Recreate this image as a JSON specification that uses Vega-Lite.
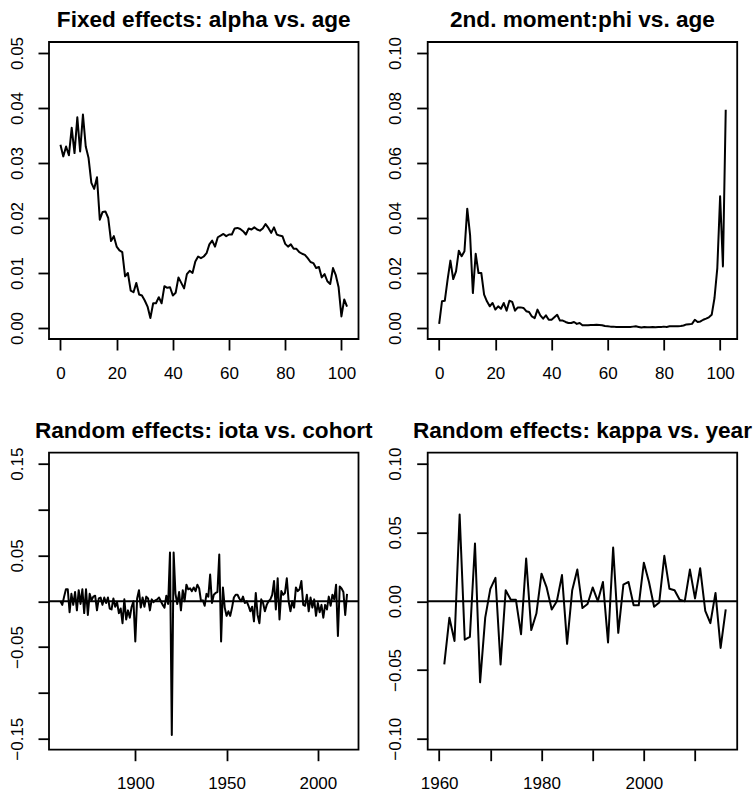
{
  "$schema": "https://vega.github.io/schema/vega-lite/v6.json",
  "background": "white",
  "padding": {"left": 7, "top": 7, "right": 5, "bottom": 5},
  "bounds": "flush",
  "columns": 2,
  "spacing": {"row": 113.7, "column": 68.7},
  "config": {
    "font": "Liberation Sans",
    "view": {"stroke": "black", "strokeWidth": 1.8},
    "title": {"font": "Liberation Sans", "fontSize": 22.6, "fontWeight": "bold", "color": "black", "baseline": "alphabetic", "offset": 5, "frame": "group", "anchor": "middle"},
    "axis": {"domain": false, "grid": false, "ticks": true, "tickSize": 11, "tickColor": "black", "tickWidth": 1.8, "labelFont": "Liberation Sans", "labelFontSize": 17, "labelColor": "black", "title": null, "labelOverlap": false, "labelFlush": false},
    "axisX": {"labelBaseline": "alphabetic", "labelPadding": 28, "labelAngle": 0},
    "axisY": {"labelAngle": -90, "labelAlign": "center", "labelBaseline": "alphabetic", "labelPadding": 16}
  },
  "datasets": {
    "alpha": [
      {"age":0,"v":0.0333},{"age":1,"v":0.0312},{"age":2,"v":0.0330},{"age":3,"v":0.0314},{"age":4,"v":0.0364},{"age":5,"v":0.0318},{"age":6,"v":0.0383},{"age":7,"v":0.0321},{"age":8,"v":0.0388},{"age":9,"v":0.0330},
      {"age":10,"v":0.0309},{"age":11,"v":0.0264},{"age":12,"v":0.0253},{"age":13,"v":0.0274},{"age":14,"v":0.0197},{"age":15,"v":0.0211},{"age":16,"v":0.0212},{"age":17,"v":0.0200},{"age":18,"v":0.0158},{"age":19,"v":0.0167},
      {"age":20,"v":0.0148},{"age":21,"v":0.0141},{"age":22,"v":0.0138},{"age":23,"v":0.0094},{"age":24,"v":0.0100},{"age":25,"v":0.0068},{"age":26,"v":0.0065},{"age":27,"v":0.0082},{"age":28,"v":0.0061},{"age":29,"v":0.0059},
      {"age":30,"v":0.0050},{"age":31,"v":0.0039},{"age":32,"v":0.0018},{"age":33,"v":0.0045},{"age":34,"v":0.0045},{"age":35,"v":0.0056},{"age":36,"v":0.0045},{"age":37,"v":0.0076},{"age":38,"v":0.0073},{"age":39,"v":0.0074},
      {"age":40,"v":0.0059},{"age":41,"v":0.0064},{"age":42,"v":0.0092},{"age":43,"v":0.0082},{"age":44,"v":0.0072},{"age":45,"v":0.0098},{"age":46,"v":0.0104},{"age":47,"v":0.0100},{"age":48,"v":0.0121},{"age":49,"v":0.0130},
      {"age":50,"v":0.0127},{"age":51,"v":0.0130},{"age":52,"v":0.0136},{"age":53,"v":0.0152},{"age":54,"v":0.0159},{"age":55,"v":0.0148},{"age":56,"v":0.0165},{"age":57,"v":0.0168},{"age":58,"v":0.0171},{"age":59,"v":0.0167},
      {"age":60,"v":0.0170},{"age":61,"v":0.0170},{"age":62,"v":0.0181},{"age":63,"v":0.0182},{"age":64,"v":0.0180},{"age":65,"v":0.0176},{"age":66,"v":0.0170},{"age":67,"v":0.0181},{"age":68,"v":0.0179},{"age":69,"v":0.0183},
      {"age":70,"v":0.0179},{"age":71,"v":0.0177},{"age":72,"v":0.0181},{"age":73,"v":0.0189},{"age":74,"v":0.0182},{"age":75,"v":0.0173},{"age":76,"v":0.0183},{"age":77,"v":0.0170},{"age":78,"v":0.0168},{"age":79,"v":0.0167},
      {"age":80,"v":0.0153},{"age":81,"v":0.0148},{"age":82,"v":0.0152},{"age":83,"v":0.0144},{"age":84,"v":0.0144},{"age":85,"v":0.0138},{"age":86,"v":0.0135},{"age":87,"v":0.0133},{"age":88,"v":0.0127},{"age":89,"v":0.0120},
      {"age":90,"v":0.0118},{"age":91,"v":0.0109},{"age":92,"v":0.0111},{"age":93,"v":0.0092},{"age":94,"v":0.0098},{"age":95,"v":0.0085},{"age":96,"v":0.0080},{"age":97,"v":0.0109},{"age":98,"v":0.0096},{"age":99,"v":0.0074},
      {"age":100,"v":0.0021},{"age":101,"v":0.0052},{"age":102,"v":0.0039}
    ],
    "phi": [
      {"age":0,"v":0.0015},{"age":1,"v":0.0097},{"age":2,"v":0.0099},{"age":3,"v":0.0176},{"age":4,"v":0.0245},{"age":5,"v":0.0178},{"age":6,"v":0.0206},{"age":7,"v":0.0281},{"age":8,"v":0.0261},{"age":9,"v":0.0279},
      {"age":10,"v":0.0434},{"age":11,"v":0.0339},{"age":12,"v":0.0127},{"age":13,"v":0.0270},{"age":14,"v":0.0200},{"age":15,"v":0.0200},{"age":16,"v":0.0121},{"age":17,"v":0.0097},{"age":18,"v":0.0079},{"age":19,"v":0.0091},
      {"age":20,"v":0.0067},{"age":21,"v":0.0079},{"age":22,"v":0.0070},{"age":23,"v":0.0091},{"age":24,"v":0.0063},{"age":25,"v":0.0099},{"age":26,"v":0.0095},{"age":27,"v":0.0063},{"age":28,"v":0.0075},{"age":29,"v":0.0075},
      {"age":30,"v":0.0073},{"age":31,"v":0.0061},{"age":32,"v":0.0058},{"age":33,"v":0.0042},{"age":34,"v":0.0036},{"age":35,"v":0.0067},{"age":36,"v":0.0046},{"age":37,"v":0.0034},{"age":38,"v":0.0046},{"age":39,"v":0.0030},
      {"age":40,"v":0.0030},{"age":41,"v":0.0039},{"age":42,"v":0.0048},{"age":43,"v":0.0027},{"age":44,"v":0.0027},{"age":45,"v":0.0022},{"age":46,"v":0.0018},{"age":47,"v":0.0018},{"age":48,"v":0.0022},{"age":49,"v":0.0015},
      {"age":50,"v":0.0018},{"age":51,"v":0.0010},{"age":52,"v":0.0010},{"age":53,"v":0.0010},{"age":54,"v":0.0011},{"age":55,"v":0.0011},{"age":56,"v":0.0012},{"age":57,"v":0.0011},{"age":58,"v":0.0010},{"age":59,"v":0.0007},
      {"age":60,"v":0.0006},{"age":61,"v":0.0005},{"age":62,"v":0.0005},{"age":63,"v":0.0004},{"age":64,"v":0.0004},{"age":65,"v":0.0004},{"age":66,"v":0.0004},{"age":67,"v":0.0004},{"age":68,"v":0.0004},{"age":69,"v":0.0005},
      {"age":70,"v":0.0006},{"age":71,"v":0.0004},{"age":72,"v":0.0002},{"age":73,"v":0.0004},{"age":74,"v":0.0003},{"age":75,"v":0.0003},{"age":76,"v":0.0004},{"age":77,"v":0.0003},{"age":78,"v":0.0004},{"age":79,"v":0.0004},
      {"age":80,"v":0.0005},{"age":81,"v":0.0004},{"age":82,"v":0.0006},{"age":83,"v":0.0006},{"age":84,"v":0.0006},{"age":85,"v":0.0006},{"age":86,"v":0.0007},{"age":87,"v":0.0009},{"age":88,"v":0.0013},{"age":89,"v":0.0014},
      {"age":90,"v":0.0015},{"age":91,"v":0.0030},{"age":92,"v":0.0022},{"age":93,"v":0.0024},{"age":94,"v":0.0030},{"age":95,"v":0.0034},{"age":96,"v":0.0039},{"age":97,"v":0.0048},{"age":98,"v":0.0109},{"age":99,"v":0.0218},
      {"age":100,"v":0.0479},{"age":101,"v":0.0224},{"age":102,"v":0.0794}
    ],
    "iota": [
      {"c":1859,"v":0},{"c":1860,"v":-0.004},{"c":1861,"v":0.005},{"c":1862,"v":0.013},{"c":1863,"v":0.013},{"c":1864,"v":-0.012},{"c":1865,"v":0.008},{"c":1866,"v":-0.004},{"c":1867,"v":0.010},{"c":1868,"v":-0.010},
      {"c":1869,"v":0.012},{"c":1870,"v":-0.003},{"c":1871,"v":0.013},{"c":1872,"v":-0.013},{"c":1873,"v":0.013},{"c":1874,"v":-0.015},{"c":1875,"v":0.008},{"c":1876,"v":0.001},{"c":1877,"v":0.005},{"c":1878,"v":0.006},
      {"c":1879,"v":-0.010},{"c":1880,"v":0.003},{"c":1881,"v":0.004},{"c":1882,"v":-0.004},{"c":1883,"v":0.004},{"c":1884,"v":-0.002},{"c":1885,"v":0.004},{"c":1886,"v":-0.008},{"c":1887,"v":-0.009},{"c":1888,"v":0.003},
      {"c":1889,"v":-0.006},{"c":1890,"v":-0.001},{"c":1891,"v":-0.013},{"c":1892,"v":-0.008},{"c":1893,"v":-0.024},{"c":1894,"v":0.002},{"c":1895,"v":-0.020},{"c":1896,"v":-0.010},{"c":1897,"v":-0.018},{"c":1898,"v":-0.006},
      {"c":1899,"v":0.000},{"c":1900,"v":-0.044},{"c":1901,"v":0.003},{"c":1902,"v":0.012},{"c":1903,"v":-0.007},{"c":1904,"v":0.004},{"c":1905,"v":-0.006},{"c":1906,"v":0.005},{"c":1907,"v":0.003},{"c":1908,"v":-0.010},
      {"c":1909,"v":0.002},{"c":1910,"v":-0.001},{"c":1911,"v":0.001},{"c":1912,"v":0.002},{"c":1913,"v":0.004},{"c":1914,"v":0.000},{"c":1915,"v":-0.004},{"c":1916,"v":-0.007},{"c":1917,"v":0.006},{"c":1918,"v":-0.003},
      {"c":1919,"v":0.053},{"c":1920,"v":-0.146},{"c":1921,"v":0.053},{"c":1922,"v":0.008},{"c":1923,"v":-0.003},{"c":1924,"v":0.010},{"c":1925,"v":-0.010},{"c":1926,"v":0.012},{"c":1927,"v":0.000},{"c":1928,"v":0.018},
      {"c":1929,"v":0.013},{"c":1930,"v":0.014},{"c":1931,"v":0.011},{"c":1932,"v":0.015},{"c":1933,"v":0.011},{"c":1934,"v":0.018},{"c":1935,"v":0.014},{"c":1936,"v":0.000},{"c":1937,"v":0.001},{"c":1938,"v":-0.005},
      {"c":1939,"v":0.008},{"c":1940,"v":0.005},{"c":1941,"v":0.029},{"c":1942,"v":-0.002},{"c":1943,"v":0.007},{"c":1944,"v":0.009},{"c":1945,"v":0.010},{"c":1946,"v":0.051},{"c":1947,"v":-0.044},{"c":1948,"v":0.015},
      {"c":1949,"v":-0.007},{"c":1950,"v":-0.016},{"c":1951,"v":-0.011},{"c":1952,"v":-0.016},{"c":1953,"v":-0.007},{"c":1954,"v":0.004},{"c":1955,"v":0.007},{"c":1956,"v":0.007},{"c":1957,"v":0.003},{"c":1958,"v":0.000},
      {"c":1959,"v":0.005},{"c":1960,"v":-0.002},{"c":1961,"v":0.000},{"c":1962,"v":-0.005},{"c":1963,"v":-0.011},{"c":1964,"v":-0.006},{"c":1965,"v":-0.022},{"c":1966,"v":0.009},{"c":1967,"v":-0.015},{"c":1968,"v":-0.024},
      {"c":1969,"v":0.002},{"c":1970,"v":-0.002},{"c":1971,"v":-0.011},{"c":1972,"v":-0.004},{"c":1973,"v":0.000},{"c":1974,"v":0.002},{"c":1975,"v":0.007},{"c":1976,"v":0.022},{"c":1977,"v":-0.009},{"c":1978,"v":0.025},
      {"c":1979,"v":-0.020},{"c":1980,"v":0.011},{"c":1981,"v":0.007},{"c":1982,"v":0.009},{"c":1983,"v":0.025},{"c":1984,"v":0.000},{"c":1985,"v":-0.011},{"c":1986,"v":0.000},{"c":1987,"v":-0.007},{"c":1988,"v":0.015},
      {"c":1989,"v":0.011},{"c":1990,"v":0.013},{"c":1991,"v":0.022},{"c":1992,"v":-0.004},{"c":1993,"v":-0.005},{"c":1994,"v":0.007},{"c":1995,"v":-0.011},{"c":1996,"v":0.004},{"c":1997,"v":-0.007},{"c":1998,"v":0.002},
      {"c":1999,"v":-0.016},{"c":2000,"v":-0.002},{"c":2001,"v":-0.012},{"c":2002,"v":-0.004},{"c":2003,"v":-0.018},{"c":2004,"v":-0.004},{"c":2005,"v":-0.009},{"c":2006,"v":0.005},{"c":2007,"v":-0.005},{"c":2008,"v":0.007},
      {"c":2009,"v":0.002},{"c":2010,"v":0.018},{"c":2011,"v":-0.038},{"c":2012,"v":0.016},{"c":2013,"v":0.014},{"c":2014,"v":0.010},{"c":2015,"v":-0.015},{"c":2016,"v":0.008}
    ],
    "kappa": [
      {"y":1961,"v":-0.046},{"y":1962,"v":-0.012},{"y":1963,"v":-0.029},{"y":1964,"v":0.063},{"y":1965,"v":-0.028},{"y":1966,"v":-0.026},{"y":1967,"v":0.042},{"y":1968,"v":-0.059},{"y":1969,"v":-0.012},{"y":1970,"v":0.009},
      {"y":1971,"v":0.017},{"y":1972,"v":-0.046},{"y":1973,"v":0.008},{"y":1974,"v":0.001},{"y":1975,"v":0.001},{"y":1976,"v":-0.024},{"y":1977,"v":0.031},{"y":1978,"v":-0.021},{"y":1979,"v":-0.009},{"y":1980,"v":0.020},
      {"y":1981,"v":0.010},{"y":1982,"v":-0.006},{"y":1983,"v":0.000},{"y":1984,"v":0.019},{"y":1985,"v":-0.031},{"y":1986,"v":0.008},{"y":1987,"v":0.023},{"y":1988,"v":-0.005},{"y":1989,"v":-0.002},{"y":1990,"v":0.010},
      {"y":1991,"v":0.000},{"y":1992,"v":0.014},{"y":1993,"v":-0.030},{"y":1994,"v":0.039},{"y":1995,"v":-0.023},{"y":1996,"v":0.012},{"y":1997,"v":0.014},{"y":1998,"v":-0.003},{"y":1999,"v":-0.003},{"y":2000,"v":0.028},
      {"y":2001,"v":0.014},{"y":2002,"v":-0.004},{"y":2003,"v":-0.001},{"y":2004,"v":0.033},{"y":2005,"v":0.009},{"y":2006,"v":0.008},{"y":2007,"v":0.001},{"y":2008,"v":0.000},{"y":2009,"v":0.023},{"y":2010,"v":0.002},
      {"y":2011,"v":0.024},{"y":2012,"v":-0.007},{"y":2013,"v":-0.016},{"y":2014,"v":0.006},{"y":2015,"v":-0.034},{"y":2016,"v":-0.006}
    ]
  },
  "concat": [
    {
      "width": 309.5, "height": 297,
      "title": "Fixed effects: alpha vs. age",
      "data": {"name": "alpha"},
      "mark": {"type": "line", "color": "black", "strokeWidth": 2, "strokeJoin": "round"},
      "encoding": {
        "x": {"field": "age", "type": "quantitative", "scale": {"domain": [-4.08, 106.08], "nice": false, "zero": false}, "axis": {"values": [0, 20, 40, 60, 80, 100], "format": "d"}},
        "y": {"field": "v", "type": "quantitative", "scale": {"domain": [-0.002, 0.052], "nice": false, "zero": false}, "axis": {"values": [0, 0.01, 0.02, 0.03, 0.04, 0.05], "format": ".2f"}}
      }
    },
    {
      "width": 309.5, "height": 297,
      "title": "2nd. moment:phi vs. age",
      "data": {"name": "phi"},
      "mark": {"type": "line", "color": "black", "strokeWidth": 2, "strokeJoin": "round"},
      "encoding": {
        "x": {"field": "age", "type": "quantitative", "scale": {"domain": [-4.08, 106.08], "nice": false, "zero": false}, "axis": {"values": [0, 20, 40, 60, 80, 100], "format": "d"}},
        "y": {"field": "v", "type": "quantitative", "scale": {"domain": [-0.004, 0.104], "nice": false, "zero": false}, "axis": {"values": [0, 0.02, 0.04, 0.06, 0.08, 0.1], "format": ".2f"}}
      }
    },
    {
      "width": 309.5, "height": 297,
      "title": "Random effects: iota vs. cohort",
      "layer": [
        {
          "data": {"name": "iota"},
          "mark": {"type": "line", "color": "black", "strokeWidth": 2, "strokeJoin": "round"},
          "encoding": {
            "x": {"field": "c", "type": "quantitative", "scale": {"domain": [1852.72, 2022.28], "nice": false, "zero": false}, "axis": {"values": [1900, 1950, 2000], "format": "d"}},
            "y": {"field": "v", "type": "quantitative", "scale": {"domain": [-0.162, 0.162], "nice": false, "zero": false}, "axis": {"values": [-0.15, -0.1, -0.05, 0, 0.05, 0.1, 0.15], "format": ".2f", "labelExpr": "(abs(datum.value) > 0.12 || (abs(datum.value) > 0.03 && abs(datum.value) < 0.07)) ? datum.label : ''"}}
          }
        },
        {
          "data": {"values": [{"z": 0}]},
          "mark": {"type": "rule", "color": "black", "strokeWidth": 2},
          "encoding": {"y": {"field": "z", "type": "quantitative"}}
        }
      ]
    },
    {
      "width": 309.5, "height": 297,
      "title": "Random effects: kappa vs. year",
      "layer": [
        {
          "data": {"name": "kappa"},
          "mark": {"type": "line", "color": "black", "strokeWidth": 2, "strokeJoin": "round"},
          "encoding": {
            "x": {"field": "y", "type": "quantitative", "scale": {"domain": [1957.76, 2018.24], "nice": false, "zero": false}, "axis": {"values": [1960, 1970, 1980, 1990, 2000, 2010], "format": "d", "labelExpr": "datum.value % 20 == 0 ? datum.label : ''"}},
            "y": {"field": "v", "type": "quantitative", "scale": {"domain": [-0.108, 0.108], "nice": false, "zero": false}, "axis": {"values": [-0.1, -0.05, 0, 0.05, 0.1], "format": ".2f"}}
          }
        },
        {
          "data": {"values": [{"z": 0}]},
          "mark": {"type": "rule", "color": "black", "strokeWidth": 2},
          "encoding": {"y": {"field": "z", "type": "quantitative"}}
        }
      ]
    }
  ]
}
